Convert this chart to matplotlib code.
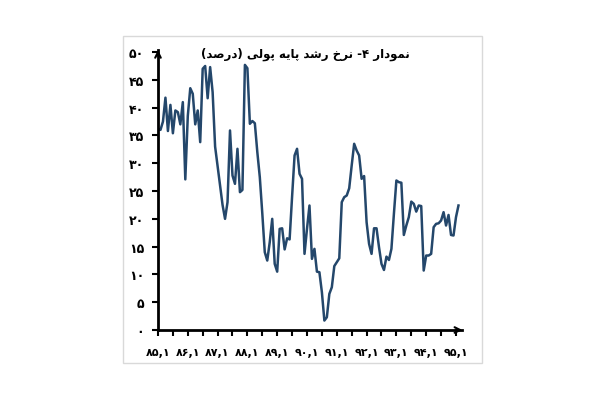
import matplotlib
matplotlib.use("Agg")
import matplotlib.pyplot as plt
from matplotlib.patches import Rectangle

# نرخ رشد پایه پولی (درصد) - ماهانه از ۸۵.۱
values = [36.2, 36.0, 37.5, 41.8, 35.8, 40.5, 35.4, 39.5, 39.2, 37.0,
          41.0, 27.1, 38.5, 43.5, 42.5, 37.0, 39.5, 33.8, 47.0, 47.5,
          41.7, 47.3, 42.8, 33.0, 29.5, 26.0, 22.5, 20.0, 23.0, 35.9,
          27.8, 26.3, 32.6, 24.8, 25.2, 47.7, 47.1, 37.1, 37.6, 37.2,
          32.0, 27.5, 21.0, 14.0, 12.5, 15.8, 20.0, 11.9, 10.5, 18.2,
          18.3, 14.5, 16.5, 16.3, 24.0, 31.4, 32.6, 28.1, 27.2, 13.7,
          18.2, 22.4, 12.8, 14.6, 10.5, 10.4, 6.8, 1.7, 2.3, 6.5,
          7.7, 11.5, 12.2, 12.9, 23.0, 23.9, 24.2, 25.5, 29.6, 33.5,
          32.3, 31.4, 27.2, 27.7, 19.4, 15.5, 13.7, 18.3, 18.3, 14.9,
          11.9, 10.8, 13.2, 12.6, 14.6, 20.9, 26.9, 26.6, 26.5, 17.1,
          18.8, 20.3, 23.1, 22.7, 21.3, 22.4, 22.3, 10.7, 13.4, 13.4,
          13.7, 18.5, 19.1, 19.2, 19.7, 21.2, 18.8, 20.7, 17.1, 17.0,
          20.3, 22.4]
years = ["85", "86", "87", "88", "89", "90", "91", "92", "93", "94", "95"]
y_ticks = [0, 5, 10, 15, 20, 25, 30, 35, 40, 45, 50]
title_words = ["نمودار", "۴-", "نرخ", "رشد", "پایه", "پولی", "(درصد)"]

FA_DIGITS = str.maketrans("0123456789", "۰۱۲۳۴۵۶۷۸۹")

# شکل های حروف (تنها، پایانی، آغازی، میانی)
FORMS = {
    "ا": ("\uFE8D", "\uFE8E", None, None),
    "د": ("\uFEA9", "\uFEAA", None, None),
    "ر": ("\uFEAD", "\uFEAE", None, None),
    "و": ("\uFEED", "\uFEEE", None, None),
    "خ": ("\uFEA5", "\uFEA6", "\uFEA7", "\uFEA8"),
    "ش": ("\uFEB5", "\uFEB6", "\uFEB7", "\uFEB8"),
    "ص": ("\uFEB9", "\uFEBA", "\uFEBB", "\uFEBC"),
    "ل": ("\uFEDD", "\uFEDE", "\uFEDF", "\uFEE0"),
    "م": ("\uFEE1", "\uFEE2", "\uFEE3", "\uFEE4"),
    "ن": ("\uFEE5", "\uFEE6", "\uFEE7", "\uFEE8"),
    "ه": ("\uFEE9", "\uFEEA", "\uFEEB", "\uFEEC"),
    "پ": ("\uFB56", "\uFB57", "\uFB58", "\uFB59"),
    "ی": ("\uFBFC", "\uFBFD", "\uFBFE", "\uFBFF"),
}


def shape(word):
    out = []
    for k, ch in enumerate(word):
        if ch not in FORMS:
            out.append(ch)
            continue
        prev = word[k - 1] if k > 0 else None
        nxt = word[k + 1] if k + 1 < len(word) else None
        join_prev = prev in FORMS and FORMS[prev][2] is not None
        join_next = nxt in FORMS and FORMS[ch][2] is not None
        iso, fin, ini, med = FORMS[ch]
        if join_prev and join_next:
            out.append(med)
        elif join_prev:
            out.append(fin)
        elif join_next:
            out.append(ini)
        else:
            out.append(iso)
    return "".join(out)


def rtl(words):
    swap = str.maketrans("()", ")(")
    return " ".join(shape(w)[::-1].translate(swap) for w in reversed(words))


fig = plt.figure(figsize=(6.1, 4.06), dpi=100)
fig.patches.append(Rectangle((0.2016, 0.1034), 0.5885, 0.8054, transform=fig.transFigure,
                             fill=False, edgecolor="#d9d9d9", linewidth=1))

ax = fig.add_axes([0.259, 0.1847, 0.4987, 0.69])
ax.plot(range(len(values)), values, color="#24476b", linewidth=1.8)

ax.set_xlim(0, 122.5)
ax.set_ylim(0, 50.4)
ax.set_xticks(range(0, 121, 12))
ax.set_xticks(range(6, 121, 12), minor=True)
ax.set_xticklabels([(y + ",1").translate(FA_DIGITS) for y in years],
                   fontsize=8, fontweight="bold", family="DejaVu Sans")
ax.set_yticks(y_ticks)
ax.set_yticklabels([str(v).translate(FA_DIGITS) for v in y_ticks],
                   fontsize=9, fontweight="bold", family="DejaVu Sans")

for s in ["top", "right"]:
    ax.spines[s].set_visible(False)
for s in ["left", "bottom"]:
    ax.spines[s].set_linewidth(2)
ax.tick_params(axis="both", which="both", direction="out", length=4, width=1.5)
ax.tick_params(axis="x", pad=8)
ax.tick_params(axis="y", pad=6)

# فلش انتهای محورها
ax.annotate("", xy=(1.01, 0), xytext=(0.97, 0), xycoords="axes fraction",
            arrowprops=dict(arrowstyle="->", lw=1.5, color="black"))
ax.annotate("", xy=(0, 1.01), xytext=(0, 0.97), xycoords="axes fraction",
            arrowprops=dict(arrowstyle="->", lw=1.5, color="black"))

fig.text(305 / 610, 1 - 54 / 406, rtl(title_words), ha="center", va="center",
         fontsize=8.5, fontweight="bold", family="DejaVu Sans")

fig.savefig("out.png", dpi=100)
